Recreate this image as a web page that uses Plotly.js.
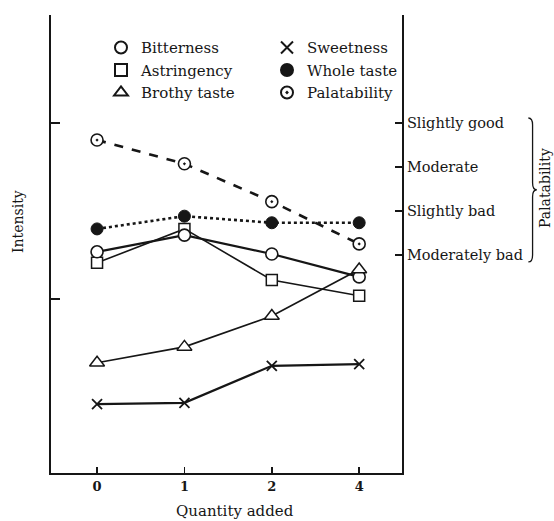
<!DOCTYPE html>
<html>
<head>
<meta charset="utf-8">
<script src="https://cdn.plot.ly/plotly-3.0.1.min.js"></script>
<style>html,body{margin:0;padding:0;background:#fff;}#chart{width:554px;height:521px;}</style>
</head>
<body>
<div id="chart"></div>
<script>
// Categories (quantity added)
var quantities = ["0", "1", "2", "4"];
// Series values (common intensity scale; palatability levels: 2=Moderately bad ... 5=Slightly good)
var bitterness   = [2.07, 2.45, 2.02, 1.50];
var astringency  = [1.82, 2.59, 1.43, 1.07];
var brothyTaste  = [-0.45, -0.09, 0.61, 1.67];
var sweetness    = [-1.39, -1.36, -0.52, -0.48];
var wholeTaste   = [2.59, 2.88, 2.73, 2.73];
var palatability = [4.61, 4.07, 3.21, 2.25];
// Right-axis (palatability) tick labels
var palatValues = [2, 3, 4, 5];
var palatLabels = ["Moderately bad", "Slightly bad", "Moderate", "Slightly good"];

var INK = "#161616";
var FONT = "DejaVu Serif, Liberation Serif, serif";

function series(name, y, symbol, size, fill, lw, dash, lwidth) {
  return {
    x: quantities, y: y, name: name, type: "scatter", mode: "lines+markers",
    showlegend: false, cliponaxis: false,
    line: {color: INK, width: lwidth, dash: dash},
    marker: {symbol: symbol, size: size, color: fill, line: {color: INK, width: lw}}
  };
}
function legendItem(name, legendId, symbol, size, fill, lw) {
  return {
    x: [null], y: [null], name: name, type: "scatter", mode: "markers", legend: legendId,
    marker: {symbol: symbol, size: size, color: fill, line: {color: INK, width: lw}}
  };
}

var data = [
  series("Palatability", palatability, "circle-dot", 12, "#fff", 1.6, "dash", 2.6),
  series("Whole taste", wholeTaste, "circle", 12, INK, 1, "dot", 2.6),
  series("Astringency", astringency, "square", 11, "#fff", 1.5, "solid", 1.6),
  series("Bitterness", bitterness, "circle", 12, "#fff", 1.6, "solid", 2.2),
  series("Brothy taste", brothyTaste, "triangle-up", 13, "#fff", 1.5, "solid", 1.7),
  series("Sweetness", sweetness, "x-thin", 10, INK, 1.8, "solid", 2.2),
  legendItem("Bitterness", "legend", "circle", 11, "#fff", 1.5),
  legendItem("Astringency", "legend", "square", 10, "#fff", 1.4),
  legendItem("Brothy taste", "legend", "triangle-up", 11, "#fff", 1.4),
  legendItem("Sweetness", "legend2", "x-thin", 9, INK, 1.6),
  legendItem("Whole taste", "legend2", "circle", 11, INK, 1),
  legendItem("Palatability", "legend2", "circle-dot", 11, "#fff", 1.4),
  // invisible trace to activate the right axis
  {x: quantities, y: palatValues, yaxis: "y2", type: "scatter", mode: "markers",
   marker: {opacity: 0}, showlegend: false, hoverinfo: "skip"}
];

var legendBase = {
  orientation: "v", xanchor: "left", yanchor: "top", y: 0.9646,
  bgcolor: "rgba(0,0,0,0)", font: {family: FONT, size: 15, color: INK},
  itemsizing: "constant", tracegroupgap: 0, traceorder: "normal"
};

var yr = [-2.955, 7.45];
var layout = {
  width: 554, height: 521,
  margin: {l: 51, r: 152, t: 15, b: 48},
  paper_bgcolor: "#fff", plot_bgcolor: "#fff",
  font: {family: FONT, color: INK, size: 14},
  showlegend: true,
  legend: Object.assign({}, legendBase, {x: (101 - 51) / 351}),
  legend2: Object.assign({}, legendBase, {x: (267 - 51) / 351}),
  xaxis: {
    type: "category", range: [-0.527, 3.49],
    showgrid: false, zeroline: false, showline: true, linecolor: INK, linewidth: 2,
    ticks: "inside", ticklen: 6, tickwidth: 1.5, tickcolor: INK,
    tickfont: {family: FONT, size: 13, color: INK, weight: "bold"}
  },
  yaxis: {
    range: yr, showgrid: false, zeroline: false, showline: true, linecolor: INK, linewidth: 2,
    ticks: "inside", ticklen: 9, tickwidth: 1.5, tickcolor: INK,
    tickvals: [1, 5], showticklabels: false
  },
  yaxis2: {
    range: yr, overlaying: "y", side: "right",
    showgrid: false, zeroline: false, showline: true, linecolor: INK, linewidth: 2,
    ticks: "inside", ticklen: 7, tickwidth: 1.5, tickcolor: INK,
    tickvals: palatValues, ticktext: palatLabels,
    tickfont: {family: FONT, size: 14.5, color: INK}
  },
  shapes: [
    {type: "path", xref: "paper", yref: "y",
     path: "M 1.36,5.11 Q 1.372,5.11 1.372,4.95 L 1.372,3.64 Q 1.372,3.48 1.384,3.48 Q 1.372,3.48 1.372,3.32 L 1.372,2.0 Q 1.372,1.84 1.36,1.84",
     line: {color: INK, width: 1.3}}
  ],
  annotations: [
    {text: "Palatability", xref: "paper", yref: "paper", x: (545 - 51) / 351, y: (473 - 188) / 458,
     xanchor: "center", yanchor: "middle", textangle: -90, showarrow: false,
     font: {family: FONT, size: 14, color: INK}},
    {text: "Intensity", xref: "paper", yref: "paper", x: (18 - 51) / 351, y: (473 - 222) / 458,
     xanchor: "center", yanchor: "middle", textangle: -90, showarrow: false,
     font: {family: FONT, size: 14, color: INK}},
    {text: "Quantity added", xref: "paper", yref: "paper", x: (235 - 51) / 351, y: (473 - 511) / 458,
     xanchor: "center", yanchor: "middle", showarrow: false,
     font: {family: FONT, size: 15, color: INK}}
  ]
};

Plotly.newPlot("chart", data, layout, {displayModeBar: false, staticPlot: true});
</script>
</body>
</html>
